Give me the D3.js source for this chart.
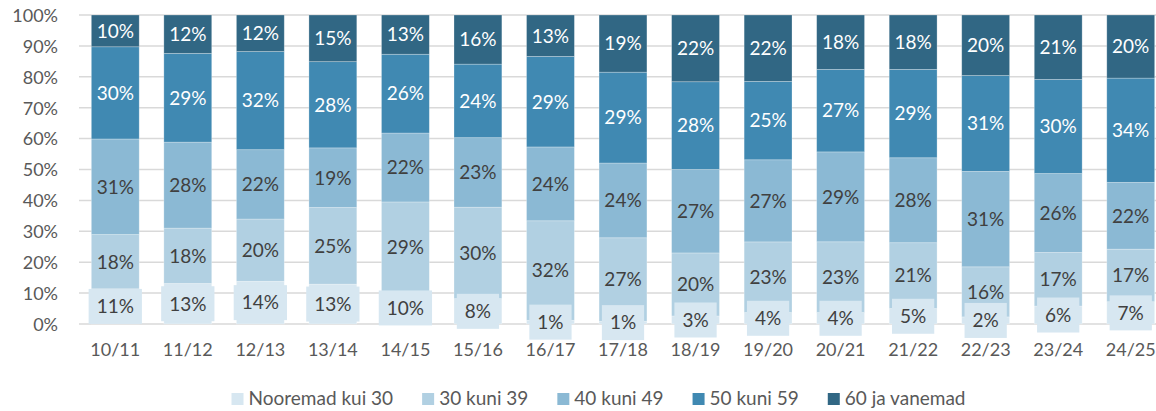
<!DOCTYPE html>
<html>
<head>
<meta charset="utf-8">
<script src="https://cdn.jsdelivr.net/npm/d3@7"></script>
<style>
  html, body { margin: 0; padding: 0; background: #ffffff; overflow: hidden; }
  svg { display: block; font-family: Lato, "Open Sans", sans-serif; }
</style>
</head>
<body>
<svg id="chart" width="1156" height="411"></svg>
<script>
const categories = ["10/11","11/12","12/13","13/14","14/15","15/16","16/17","17/18","18/19","19/20","20/21","21/22","22/23","23/24","24/25"];
const seriesNames = ["Nooremad kui 30","30 kuni 39","40 kuni 49","50 kuni 59","60 ja vanemad"];
const under30  = [11.4,13.1,13.8,12.9,10.4, 8.2, 1.2, 0.9, 2.6, 3.7, 3.7, 5.0, 2.3, 5.8, 7.2];
const age30_39 = [17.6,17.9,20.1,24.8,29.1,29.6,32.2,27.0,20.4,22.9,22.9,21.3,16.2,17.3,17.0];
const age40_49 = [31.0,27.8,22.4,19.3,22.3,22.5,23.9,24.2,27.0,26.6,29.1,27.5,30.9,25.5,21.6];
const age50_59 = [29.9,28.7,31.7,27.9,25.5,23.8,29.3,29.4,28.4,25.4,26.7,28.6,31.0,30.4,33.7];
const age60up  = [10.3,12.4,11.8,15.1,12.7,15.9,13.4,18.5,21.6,21.5,17.6,17.6,19.6,20.8,20.4];
const yTicks = [0,0.1,0.2,0.3,0.4,0.5,0.6,0.7,0.8,0.9,1];

const colors = ["#d7e7f1","#b1d0e2","#8bb9d4","#4089b2","#316784"];
const labelColors = ["#404040","#404040","#404040","#ffffff","#ffffff"];

const seriesArrays = [under30, age30_39, age40_49, age50_59, age60up];
const rows = categories.map((c, i) => {
  const r = {cat: c};
  seriesNames.forEach((s, k) => r[s] = seriesArrays[k][i]);
  return r;
});

const svg = d3.select("#chart");
const x = d3.scaleBand().domain(categories).range([79, 1167]).paddingInner(0.34).paddingOuter(0.17);
const y = d3.scaleLinear().domain([0, 1]).range([324, 15]);

// grid
svg.append("g").selectAll("line").data(yTicks).join("line")
  .attr("x1", 79).attr("x2", 1156)
  .attr("y1", d => y(d)).attr("y2", d => y(d))
  .attr("stroke", "#d9d9d9").attr("stroke-width", 1.5);

// y axis labels
const yAxis = d3.axisLeft(y).tickValues(yTicks).tickFormat(d3.format(".0%")).tickSize(0).tickPadding(0);
const yg = svg.append("g").attr("transform", "translate(58,0)").call(yAxis);
yg.select(".domain").remove();
yg.selectAll("text").attr("fill", "#595959").style("font-size", "18px").style("font-family", "Lato, sans-serif").attr("dy", "0.35em");

// x axis labels
const xAxis = d3.axisBottom(x).tickSize(0).tickPadding(0);
const xg = svg.append("g").attr("transform", "translate(0,343)").call(xAxis);
xg.select(".domain").remove();
xg.selectAll("text").attr("fill", "#595959").style("font-size", "18px").style("font-family", "Lato, sans-serif").attr("dy", "0.71em");

const stack = d3.stack().keys(seriesNames).offset(d3.stackOffsetExpand);
const stacked = stack(rows);

// bars
const groups = svg.append("g").selectAll("g").data(stacked).join("g")
  .attr("fill", (d, i) => colors[i]);
groups.selectAll("rect").data(d => d).join("rect")
  .attr("x", d => x(d.data.cat))
  .attr("width", x.bandwidth())
  .attr("y", d => y(d[1]))
  .attr("height", d => y(d[0]) - y(d[1]))
  .attr("stroke", "rgba(255,255,255,0.35)")
  .attr("stroke-width", 0.75);

// labels
const labelG = svg.append("g");
stacked.forEach((ser, k) => {
  ser.forEach(d => {
    const cx = x(d.data.cat) + x.bandwidth() / 2;
    const cy = (y(d[0]) + y(d[1])) / 2;
    const txt = Math.round(d.data[ser.key]) + "%";
    const g = labelG.append("g");
    const t = g.append("text")
      .attr("x", cx).attr("y", cy)
      .attr("text-anchor", "middle")
      .attr("dy", "0.36em")
      .attr("fill", labelColors[k])
      .style("font-size", "19px")
      .text(txt);
    if (k === 0) {
      const w = t.node().getComputedTextLength();
      g.insert("rect", "text")
        .attr("x", cx - w / 2 - 8)
        .attr("y", cy - 17.5)
        .attr("width", w + 16)
        .attr("height", 35)
        .attr("fill", colors[0]);
    }
  });
});

// legend
const legend = svg.append("g");
let lx = 0;
seriesNames.forEach((s, i) => {
  const g = legend.append("g");
  g.append("rect").attr("x", 0).attr("y", 393).attr("width", 12).attr("height", 12).attr("fill", colors[i]);
  const t = g.append("text").attr("x", 17).attr("y", 405).attr("fill", "#595959").style("font-size", "19px").text(s);
  const w = 17 + t.node().getComputedTextLength();
  g.attr("transform", `translate(${lx},0)`);
  lx += w + 29;
});
const total = lx - 29;
legend.attr("transform", `translate(${598.5 - total / 2},0)`);
</script>
</body>
</html>
